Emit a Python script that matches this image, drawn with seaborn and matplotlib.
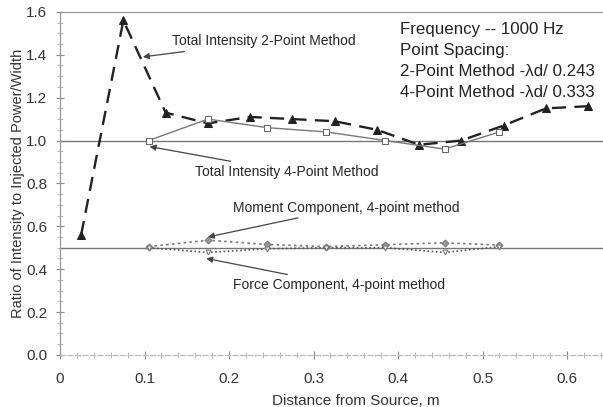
import numpy as np
import pandas as pd
import matplotlib
matplotlib.use("Agg")
import matplotlib.pyplot as plt
import seaborn as sns

# values
x_2pt = [0.025, 0.075, 0.125, 0.175, 0.225, 0.275, 0.325, 0.375, 0.425, 0.475, 0.525, 0.575, 0.625]
y_2pt = [0.56, 1.56, 1.13, 1.08, 1.11, 1.10, 1.09, 1.05, 0.98, 1.00, 1.07, 1.15, 1.16]

x_4pt = [0.105, 0.175, 0.245, 0.315, 0.385, 0.455, 0.520]
y_4pt = [1.00, 1.10, 1.06, 1.04, 1.00, 0.96, 1.04]

y_moment = [0.505, 0.535, 0.515, 0.505, 0.514, 0.523, 0.512]
y_force = [0.500, 0.478, 0.495, 0.500, 0.500, 0.478, 0.505]

x_ticks = [0, 0.1, 0.2, 0.3, 0.4, 0.5, 0.6]
x_ticklabels = ["0", "0.1", "0.2", "0.3", "0.4", "0.5", "0.6"]
y_ticks = [0.0, 0.2, 0.4, 0.6, 0.8, 1.0, 1.2, 1.4, 1.6]

info_lines = ["Frequency -- 1000 Hz", "Point Spacing:",
              "2-Point Method -\u03bbd/ 0.243", "4-Point Method -\u03bbd/ 0.333"]

sns.set_style("ticks")
plt.rcParams['font.family'] = ['Liberation Sans', 'DejaVu Sans']

df2 = pd.DataFrame({"x": x_2pt, "y": y_2pt})
df4 = pd.DataFrame({"x": x_4pt, "y": y_4pt, "m": y_moment, "f": y_force})

fig = plt.figure(figsize=(6.03, 4.07), dpi=100)
# the axes run a little past the right edge of the picture, as in the scan
ax = fig.add_axes([0.0995, 0.128, 0.981, 0.8428])

ax.axhline(1.0, color='#777777', lw=1.0, zorder=1)
ax.axhline(0.5, color='#777777', lw=1.0, zorder=1)

sns.lineplot(data=df2, x="x", y="y", ax=ax, color='#222222', lw=1.7,
             linestyle=(0, (6, 3.5)), marker='^', markersize=5.5,
             markeredgecolor='#222222', zorder=3)
sns.lineplot(data=df4, x="x", y="y", ax=ax, color='#777777', lw=1.0,
             marker='s', markersize=5, markerfacecolor='white',
             markeredgecolor='#666666', zorder=3)
sns.lineplot(data=df4, x="x", y="m", ax=ax, color='#777777', lw=1.2,
             linestyle=(0, (1.5, 2)), marker='D', markersize=3.5,
             markerfacecolor='#999999', markeredgecolor='#777777', zorder=2)
sns.lineplot(data=df4, x="x", y="f", ax=ax, color='#555555', lw=1.2,
             linestyle=(0, (1, 1.5)), marker='v', markersize=3.5,
             markerfacecolor='white', markeredgecolor='#777777', zorder=2)

ax.set_xlim(0, 0.7)
ax.set_ylim(0, 1.6)
ax.set_xticks(x_ticks)
ax.set_xticklabels(x_ticklabels)
ax.set_yticks(y_ticks)
ax.set_yticklabels([f"{v:.1f}" for v in y_ticks])
ax.set_xticks(np.arange(0, 0.7, 0.02), minor=True)
ax.set_yticks(np.arange(0, 1.6, 0.05), minor=True)
ax.tick_params(axis='both', which='major', labelsize=11, colors='#888888',
               labelcolor='#333333', direction='inout', length=6, width=0.8)
ax.tick_params(axis='both', which='minor', colors='#aaaaaa',
               direction='inout', length=4, width=0.6)
ax.tick_params(axis='x', which='major', pad=9)
ax.tick_params(axis='y', which='major', pad=6)
for side in ['top', 'right', 'left', 'bottom']:
    ax.spines[side].set_color('#999999')
    ax.spines[side].set_linewidth(0.9)
ax.spines['bottom'].set_linestyle((0, (4, 2)))
ax.spines['bottom'].set_color('#bbbbbb')

ax.set_xlabel("Distance from Source, m", fontsize=11, color='#333333', labelpad=6)
ax.set_ylabel("Ratio of Intensity to Injected Power/Width", fontsize=10.5,
              color='#333333', labelpad=1)

arrow = dict(arrowstyle='-|>', color='#444444', lw=0.9, mutation_scale=9,
             shrinkA=0, shrinkB=0)
ax.annotate("Total Intensity 2-Point Method", xy=(0.098, 1.39), xytext=(0.1325, 1.463),
            fontsize=10, va='center', ha='left', arrowprops=arrow)
ax.annotate("Total Intensity 4-Point Method", xy=(0.106, 0.972), xytext=(0.16, 0.855),
            fontsize=10, va='center', ha='left', arrowprops=arrow)
ax.annotate("Moment Component, 4-point method", xy=(0.175, 0.55), xytext=(0.205, 0.687),
            fontsize=10, va='center', ha='left', arrowprops=arrow)
ax.annotate("Force Component, 4-point method", xy=(0.173, 0.45), xytext=(0.205, 0.327),
            fontsize=10, va='center', ha='left', arrowprops=arrow)

for i, line in enumerate(info_lines):
    ax.text(0.402, 1.519 - i * 0.099, line, fontsize=12.2, color='#222222',
            va='center', ha='left')

fig.savefig("out.png", dpi=100)
